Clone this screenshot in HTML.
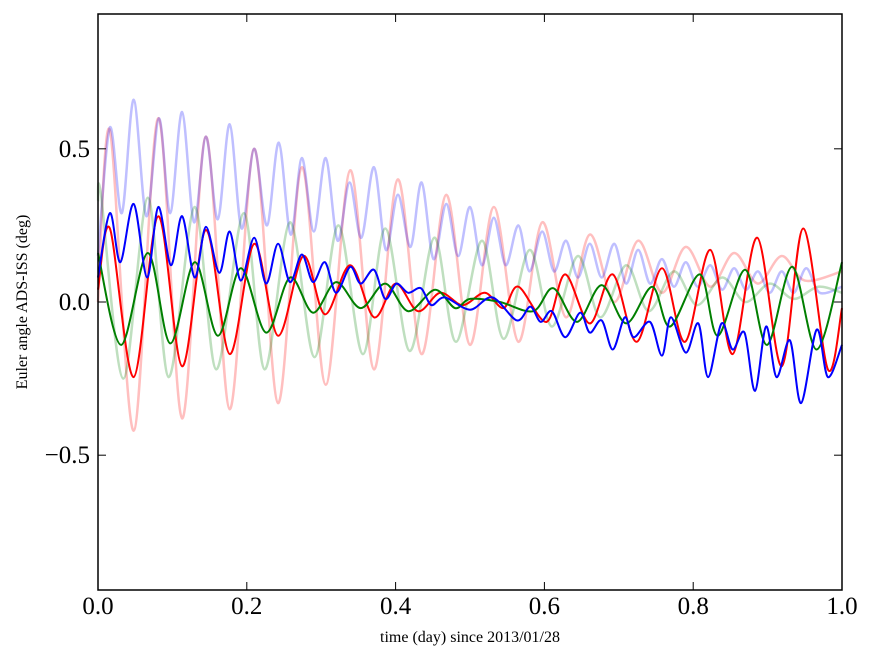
<!DOCTYPE html>
<html><head><meta charset="utf-8"><style>
body{margin:0;background:#fff;width:875px;height:662px;overflow:hidden}
text{font-family:"Liberation Serif",serif}
</style></head><body>
<svg id="chart" width="875" height="662" xmlns="http://www.w3.org/2000/svg">
<g id="series"></g>
<rect x="98" y="14" width="744" height="576" fill="none" stroke="#000" stroke-width="1.5"/>
<g id="axes"></g>
<text transform="translate(27,302) rotate(-90)" text-anchor="middle" font-size="16">Euler angle ADS-ISS (deg)</text>
<text x="470" y="642" text-anchor="middle" font-size="16">time (day) since 2013/01/28</text>
</svg>
<script>
const xTicks=[0,0.2,0.4,0.6,0.8,1.0];
const xTickLabels=["0.0","0.2","0.4","0.6","0.8","1.0"];
const yTicks=[-0.5,0,0.5];
const yTickLabels=["\u22120.5","0.0","0.5"];
const pinkT=[0,0.016,0.048,0.081,0.113,0.145,0.177,0.21,0.242,0.274,0.306,0.339,0.371,0.403,0.435,0.468,0.5,0.532,0.565,0.597,0.629,0.661,0.694,0.726,0.758,0.79,0.823,0.855,0.887,0.919,0.95,1.0];
const pinkV=[0.0,0.56,-0.42,0.6,-0.38,0.54,-0.35,0.5,-0.33,0.44,-0.27,0.43,-0.22,0.4,-0.17,0.35,-0.14,0.31,-0.13,0.26,-0.05,0.22,0.0,0.2,0.03,0.18,0.05,0.16,0.06,0.15,0.07,0.1];
const lavT=[0,0.016,0.032,0.048,0.065,0.082,0.097,0.113,0.129,0.145,0.161,0.177,0.193,0.21,0.227,0.243,0.259,0.274,0.29,0.306,0.322,0.338,0.354,0.371,0.387,0.403,0.42,0.435,0.451,0.468,0.484,0.5,0.516,0.532,0.548,0.565,0.58,0.597,0.613,0.629,0.645,0.661,0.677,0.694,0.71,0.726,0.742,0.758,0.774,0.79,0.806,0.823,0.839,0.855,0.871,0.887,0.903,0.919,0.935,0.952,0.97,1.0];
const lavV=[0.15,0.57,0.29,0.66,0.28,0.6,0.29,0.62,0.26,0.54,0.27,0.58,0.24,0.5,0.25,0.52,0.22,0.47,0.23,0.47,0.2,0.39,0.21,0.44,0.17,0.35,0.18,0.39,0.14,0.32,0.15,0.31,0.12,0.275,0.12,0.25,0.1,0.23,0.1,0.2,0.08,0.19,0.08,0.19,0.06,0.17,0.06,0.14,0.05,0.13,0.05,0.12,0.04,0.11,0.04,0.1,0.03,0.1,0.03,0.11,0.03,0.05];
const gfT=[0,0.004,0.034,0.067,0.095,0.130,0.159,0.196,0.224,0.258,0.291,0.323,0.356,0.386,0.419,0.452,0.481,0.516,0.545,0.58,0.61,0.645,0.675,0.71,0.74,0.774,0.805,0.839,0.87,0.903,0.935,0.968,1.0];
const gfV=[0.33,0.35,-0.25,0.34,-0.245,0.31,-0.22,0.29,-0.22,0.26,-0.18,0.25,-0.17,0.24,-0.16,0.21,-0.13,0.2,-0.12,0.17,-0.08,0.15,-0.05,0.12,-0.03,0.1,-0.01,0.08,0.0,0.06,0.01,0.05,0.03];
const redT=[0,0.016,0.048,0.081,0.113,0.145,0.177,0.21,0.242,0.276,0.305,0.339,0.371,0.40,0.43,0.46,0.49,0.52,0.545,0.565,0.603,0.628,0.661,0.692,0.724,0.758,0.789,0.823,0.853,0.886,0.919,0.948,0.981,1.0];
const redV=[0.04,0.24,-0.245,0.28,-0.21,0.235,-0.17,0.19,-0.11,0.15,-0.04,0.12,-0.05,0.06,-0.03,0.03,-0.01,0.03,-0.02,0.05,-0.065,0.09,-0.07,0.09,-0.13,0.11,-0.13,0.17,-0.17,0.21,-0.21,0.24,-0.22,-0.02];
const greenT=[0,0.031,0.067,0.097,0.130,0.161,0.192,0.226,0.258,0.289,0.32,0.353,0.386,0.417,0.453,0.48,0.5,0.54,0.585,0.612,0.644,0.677,0.71,0.745,0.769,0.809,0.833,0.87,0.899,0.933,0.966,1.0];
const greenV=[0.16,-0.14,0.16,-0.135,0.13,-0.11,0.11,-0.10,0.08,-0.035,0.065,-0.02,0.06,-0.03,0.04,-0.02,0.01,0.0,-0.03,0.045,-0.065,0.055,-0.07,0.05,-0.08,0.09,-0.11,0.105,-0.14,0.115,-0.155,0.13];
const blueT=[0,0.016,0.03,0.048,0.066,0.081,0.098,0.113,0.13,0.145,0.163,0.177,0.192,0.21,0.226,0.242,0.258,0.274,0.289,0.305,0.32,0.339,0.353,0.371,0.386,0.401,0.417,0.434,0.448,0.466,0.5,0.53,0.563,0.581,0.595,0.61,0.628,0.648,0.661,0.677,0.692,0.708,0.72,0.742,0.758,0.77,0.79,0.807,0.82,0.838,0.853,0.869,0.883,0.898,0.912,0.93,0.945,0.966,0.981,1.0];
const blueV=[0.08,0.29,0.13,0.32,0.08,0.31,0.12,0.28,0.08,0.245,0.095,0.23,0.07,0.21,0.06,0.19,0.065,0.155,0.065,0.13,0.03,0.115,0.06,0.105,0.01,0.06,0.03,0.045,-0.01,0.015,-0.025,0.015,-0.06,-0.015,-0.065,-0.03,-0.115,-0.035,-0.1,-0.06,-0.155,-0.05,-0.115,-0.065,-0.175,-0.05,-0.165,-0.07,-0.245,-0.07,-0.155,-0.1,-0.29,-0.08,-0.245,-0.125,-0.33,-0.09,-0.245,-0.14];
const X0=98,X1=842,Y0=590,Y1=14,YMIN=-0.94,YMAX=0.94;
const xs=v=>X0+(v-0)/(1-0)*(X1-X0);
const ys=v=>Y0-(v-YMIN)/(YMAX-YMIN)*(Y0-Y1);
const NS='http://www.w3.org/2000/svg';
function pathFor(T,V){
  const p=T.map((t,i)=>[xs(t),ys(V[i])]);
  let d='M'+p[0][0].toFixed(1)+','+p[0][1].toFixed(1);
  for(let i=0;i<p.length-1;i++){
    const a=p[Math.max(0,i-1)],b=p[i],c=p[i+1],e=p[Math.min(p.length-1,i+2)];
    const k=0.16;
    const c1=[b[0]+(c[0]-a[0])*k,b[1]+(c[1]-a[1])*k];
    const c2=[c[0]-(e[0]-b[0])*k,c[1]-(e[1]-b[1])*k];
    d+='C'+c1.map(n=>n.toFixed(1)).join(',')+' '+c2.map(n=>n.toFixed(1)).join(',')+' '+c[0].toFixed(1)+','+c[1].toFixed(1);
  }
  return d;
}
const g=document.getElementById('series');
function addLine(T,V,color,op,w,name){
  const el=document.createElementNS(NS,'path');
  el.setAttribute('d',pathFor(T,V));
  el.setAttribute('fill','none');el.setAttribute('stroke',color);
  el.setAttribute('stroke-opacity',op);el.setAttribute('stroke-width',w);
  el.setAttribute('stroke-linejoin','round');
  
  
  g.appendChild(el);
}
addLine(pinkT,pinkV,'#ff0000',0.25,2.5,'faint-red-series');
addLine(lavT,lavV,'#0000ff',0.25,2.5,'faint-blue-series');
addLine(gfT,gfV,'#008000',0.25,2.5,'faint-green-series');
addLine(redT,redV,'#ff0000',1,2,'red-series');
addLine(greenT,greenV,'#007f00',1,2,'green-series');
addLine(blueT,blueV,'#0000ff',1,2,'blue-series');
const ax=document.getElementById('axes');
xTicks.forEach((t,i)=>{
  const x=xs(t);
  [[Y0,Y0-8],[Y1,Y1+8]].forEach(([a,b])=>{
    const l=document.createElementNS(NS,'line');
    l.setAttribute('x1',x);l.setAttribute('x2',x);l.setAttribute('y1',a);l.setAttribute('y2',b);
    l.setAttribute('stroke','#000');
    
    
    ax.appendChild(l);
  });
  const tx=document.createElementNS(NS,'text');
  tx.setAttribute('x',x);tx.setAttribute('y',614);tx.setAttribute('text-anchor','middle');tx.setAttribute('font-size','25');
  tx.textContent=xTickLabels[i];
  
  
  ax.appendChild(tx);
});
yTicks.forEach((t,i)=>{
  const y=ys(t);
  [[X0,X0+8],[X1,X1-8]].forEach(([a,b])=>{
    const l=document.createElementNS(NS,'line');
    l.setAttribute('x1',a);l.setAttribute('x2',b);l.setAttribute('y1',y);l.setAttribute('y2',y);
    l.setAttribute('stroke','#000');
    
    
    ax.appendChild(l);
  });
  const tx=document.createElementNS(NS,'text');
  tx.setAttribute('x',90);tx.setAttribute('y',y+8);tx.setAttribute('text-anchor','end');tx.setAttribute('font-size','25');
  tx.textContent=yTickLabels[i];
  
  
  ax.appendChild(tx);
});
</script>
</body></html>
